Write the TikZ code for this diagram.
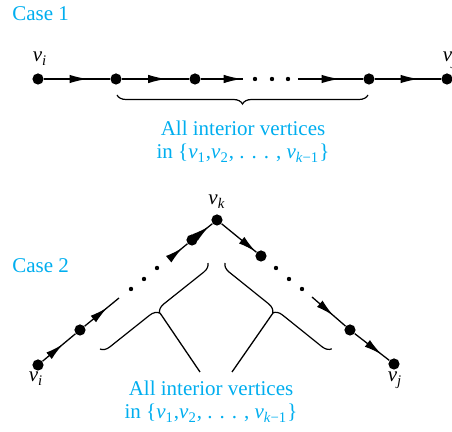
\documentclass[tikz,border=0pt]{standalone}
\usepackage{fontspec}
\setmainfont{Liberation Serif}
\usetikzlibrary{positioning,arrows.meta,decorations.pathreplacing,decorations.markings}
\definecolor{casecyan}{RGB}{0,174,239}
\newcommand{\vsub}[1]{\textit{v}\textsubscript{\textit{#1}}}
\newcommand{\vnum}[1]{\textit{v}\textsubscript{#1}}

\begin{document}
\begin{tikzpicture}[
  x=0.5pt, y=-0.5pt,
  font=\fontsize{10.5}{11.5}\selectfont,
  vtx/.style={circle, fill=black, inner sep=0pt, minimum size=5.6pt},
  edgeline/.style={draw=black, line width=0.65pt},
  midarrow/.style={edgeline, postaction={decorate},
    decoration={markings, mark=at position #1 with {\arrow{Latex[length=9pt,width=4.2pt]}}}},
  bracemark/.style={draw=black, line width=0.6pt, decorate, decoration={brace, mirror, amplitude=4.5pt}},
  vlabel/.style={anchor=base, inner sep=0pt},
  casetext/.style={text=casecyan, anchor=base west, inner sep=0pt},
  setnote/.style={text=casecyan, align=center, anchor=north, inner sep=0pt}
]
  \useasboundingbox (0,0) rectangle (452,432);

  % Case 1
  \node[casetext] (case1) at (12,21) {Case 1};
  \node[vtx] (ai) at (38,79) {};
  \node[vtx] (a1) at (116,79) {};
  \node[vtx] (a2) at (195,79) {};
  \coordinate (ag1) at (243,79);
  \coordinate (ag2) at (298,79);
  \node[vtx] (a3) at (369,79) {};
  \node[vtx] (aj) at (447,79) {};
  \draw[midarrow=0.66] (ai) -- (a1);
  \draw[midarrow=0.66] (a1) -- (a2);
  \draw[midarrow=0.97] (a2) -- (ag1);
  \draw[midarrow=0.64] (ag2) -- (a3);
  \draw[midarrow=0.66] (a3) -- (aj);
  \foreach \x in {255,272,288} \fill (\x,79) circle (1.1pt);
  \node[vlabel] (lai) at (40,62) {\vsub{i}};
  \node[vlabel] (laj) at (450,62) {\vsub{j}};
  \coordinate (abr1) at (117,95);
  \coordinate (abr2) at (368,95);
  \draw[bracemark] (abr1) -- (abr2);
  \node[setnote] (note1) at (243,121) {All interior vertices\\in \{\vnum{1},\vnum{2}, . . . , \textit{v}\textsubscript{\textit{k}−1}\}};

  % Case 2
  \node[casetext] (case2) at (12,273) {Case 2};
  \node[vtx] (bi) at (38,365) {};
  \node[vtx] (b1) at (80,330) {};
  \coordinate (bg1) at (119,298);
  \coordinate (bg2) at (169,259);
  \node[vtx] (b2) at (192,240) {};
  \node[vtx] (bk) at (217,220) {};
  \node[vtx] (b3) at (261,256) {};
  \coordinate (bg3) at (312,297);
  \node[vtx] (b4) at (350,330) {};
  \node[vtx] (bj) at (394,364) {};
  \draw[midarrow=0.62] (bi) -- (b1);
  \draw[midarrow=0.66] (b1) -- (bg1);
  \draw[midarrow=0.74] (bg2) -- (b2);
  \draw[midarrow=0.8] (b2) -- (bk);
  \draw[midarrow=0.98] (bk) -- (b3);
  \draw[midarrow=0.64] (bg3) -- (b4);
  \draw[midarrow=0.78] (b4) -- (bj);
  \foreach \x/\y in {131/289,144/279,157/268,276/268,289/279,302/289} \fill (\x,\y) circle (1.1pt);
  \node[vlabel] (lbk) at (217,205) {\vsub{k}};
  \node[vlabel] (lbi) at (36,382) {\vsub{i}};
  \node[vlabel] (lbj) at (395,382) {\vsub{j}};
  \coordinate (lbr1) at (100,349);
  \coordinate (lbr2) at (208,263);
  \coordinate (rbr1) at (225,263);
  \coordinate (rbr2) at (332,349);
  \draw[bracemark] (lbr1) -- (lbr2);
  \draw[bracemark] (rbr1) -- (rbr2);
  \coordinate (ltip) at (160,313);
  \coordinate (lfoot) at (200,372);
  \coordinate (rtip) at (273,313);
  \coordinate (rfoot) at (232,372);
  \draw[edgeline] (ltip) -- (lfoot);
  \draw[edgeline] (rtip) -- (rfoot);
  \node[setnote] (note2) at (211,381) {All interior vertices\\in \{\vnum{1},\vnum{2}, . . . , \textit{v}\textsubscript{\textit{k}−1}\}};
\end{tikzpicture}
\end{document}
